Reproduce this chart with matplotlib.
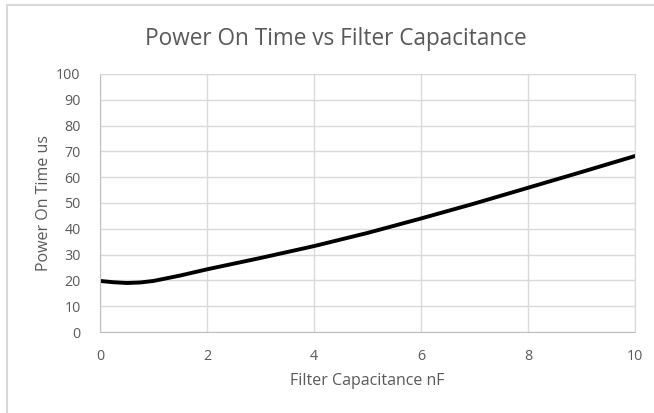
import matplotlib
matplotlib.use("Agg")
import matplotlib.pyplot as plt
from matplotlib.lines import Line2D

plt.rcParams['font.family'] = ['Open Sans', 'DejaVu Sans']

capacitance_nf = [0, 0.25, 0.5, 0.75, 1, 1.5, 2, 3, 4, 5, 6, 7, 8, 9, 10]
on_time_us = [19.8, 19.3, 19.0, 19.2, 19.8, 21.9, 24.3, 28.7, 33.3, 38.4, 44.0, 49.8, 55.9, 62.0, 68.2]
x_ticks = [0, 2, 4, 6, 8, 10]
y_ticks = list(range(0, 101, 10))

TXT = '#595959'
GRID = '#d9d9d9'

fig = plt.figure(figsize=(6.54, 4.13), dpi=100)
ax = fig.add_axes([0.1529, 0.196, 0.8181, 0.625])

ax.plot(capacitance_nf, on_time_us, color='black', lw=2.8, solid_capstyle='round')
ax.set_xlim(0, 10)
ax.set_ylim(0, 100)
ax.set_xticks(x_ticks)
ax.set_yticks(y_ticks)
ax.grid(True, color=GRID, lw=1)
ax.set_axisbelow(True)
for s in ['top', 'right']:
    ax.spines[s].set_color(GRID)
for s in ['left', 'bottom']:
    ax.spines[s].set_color('#bfbfbf')
ax.tick_params(length=0, colors=TXT, labelsize=10.3)
ax.tick_params(axis='x', pad=12)
ax.tick_params(axis='y', pad=14)

ax.set_xlabel('Filter Capacitance nF', color=TXT, fontsize=11.5, labelpad=7)
ax.set_ylabel('Power On Time us', color=TXT, fontsize=11.5, labelpad=3)
fig.text(0.514, 0.906, 'Power On Time vs Filter Capacitance', color=TXT, fontsize=16.3,
         ha='center', va='center')

fig.add_artist(Line2D([7/654, 7/654], [0, 1 - 5/413], color='#d9d9d9', lw=1.5, transform=fig.transFigure))
fig.add_artist(Line2D([7/654, 1], [1 - 5/413, 1 - 5/413], color='#d9d9d9', lw=1.5, transform=fig.transFigure))

fig.savefig('out.png', dpi=100)
